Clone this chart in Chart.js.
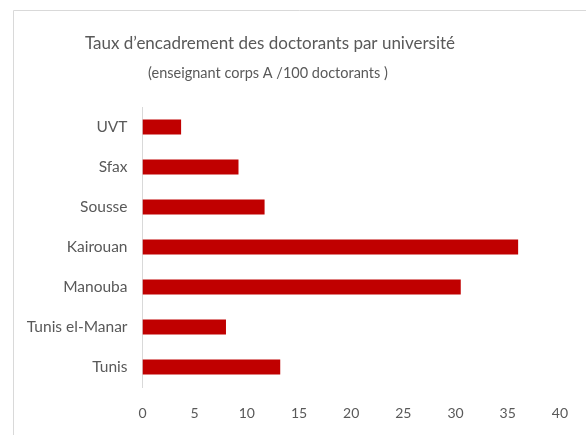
<!DOCTYPE html>
<html>
<head>
<meta charset="utf-8">
<script src="https://cdn.jsdelivr.net/npm/chart.js@4"></script>
<style>
  html, body { margin: 0; padding: 0; background: #fff; overflow: hidden; }
  .wrap { position: relative; width: 586px; height: 435px; }
  canvas { display: block; }
</style>
</head>
<body>
<div class="wrap"><canvas id="chart"></canvas></div>
<script>
const universities = ['UVT', 'Sfax', 'Sousse', 'Kairouan', 'Manouba', 'Tunis el-Manar', 'Tunis'];
const ratios = [3.7, 9.2, 11.7, 36.0, 30.5, 8.0, 13.2];
const titleText = 'Taux d\u2019encadrement des doctorants par université';
const subtitleText = '(enseignant corps A /100 doctorants )';

const red = '#C00000';
const grey = '#595959';
const lightGrey = '#D9D9D9';

// frame around the chart + the two title lines (centred left of the plot like the original)
const frameAndTitle = {
  id: 'frameAndTitle',
  beforeDraw(chart) {
    const { ctx } = chart;
    ctx.save();
    ctx.strokeStyle = lightGrey;
    ctx.lineWidth = 1;
    ctx.beginPath();
    ctx.moveTo(13.5, 435);
    ctx.lineTo(13.5, 10.5);
    ctx.lineTo(586, 10.5);
    ctx.stroke();
    ctx.fillStyle = grey;
    ctx.textAlign = 'center';
    ctx.textBaseline = 'middle';
    ctx.font = '17px Lato';
    ctx.fillText(titleText, 270, 44);
    ctx.font = '14.5px Lato';
    ctx.fillText(subtitleText, 268, 73);
    ctx.restore();
  }
};

new Chart(document.getElementById('chart'), {
  type: 'bar',
  plugins: [frameAndTitle],
  data: {
    labels: universities,
    datasets: [{
      data: ratios,
      backgroundColor: red,
      borderWidth: 0,
      categoryPercentage: 1,
      barPercentage: 0.37
    }]
  },
  options: {
    indexAxis: 'y',
    responsive: true,
    maintainAspectRatio: false,
    animation: false,
    layout: {
      padding: { top: 107, right: 23, bottom: 13, left: 0 }
    },
    scales: {
      x: {
        min: 0,
        max: 40,
        grid: { display: false, drawTicks: false },
        border: { display: false },
        ticks: {
          stepSize: 5,
          padding: 18,
          color: grey,
          font: { family: 'Lato', size: 14 }
        },
        afterFit: (axis) => { axis.height = 35; }
      },
      y: {
        grid: { display: false, drawTicks: false },
        border: { display: true, color: lightGrey, width: 1 },
        ticks: {
          padding: 15,
          color: grey,
          font: { family: 'Lato', size: 15.5 }
        },
        afterFit: (axis) => { axis.width = 142.5; }
      }
    },
    plugins: {
      legend: { display: false },
      tooltip: { enabled: false },
      title: { display: false }
    }
  }
});
</script>
</body>
</html>
